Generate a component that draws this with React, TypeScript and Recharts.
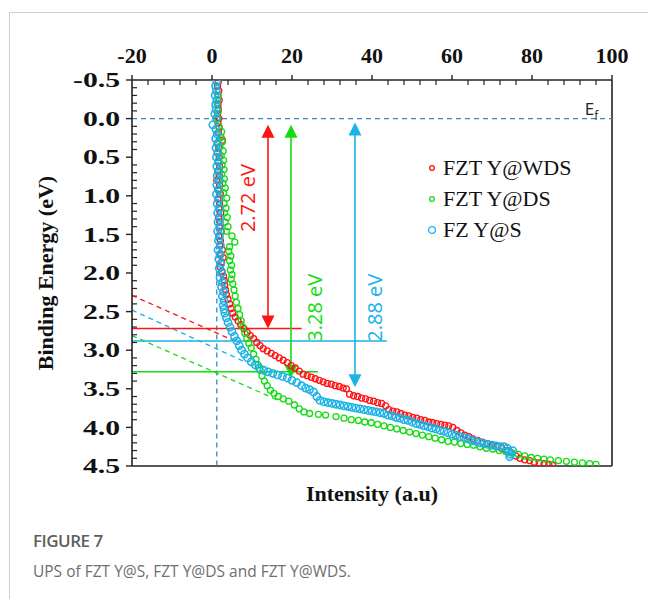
import React from "react";
import {
  Label,
  Legend,
  ReferenceDot,
  ReferenceLine,
  Scatter,
  ScatterChart,
  XAxis,
  YAxis,
} from "recharts";

// UPS scans: [intensity (a.u.), binding energy (eV)]
const wdsPoints: [number, number][] = [
  [1.6, -0.48], [1.4, -0.42], [1.7, -0.36], [1.5, -0.3], [1.8, -0.24], [1.5, -0.18],
  [1.6, -0.12], [1.4, -0.06], [1.7, 0.0], [1.5, 0.06], [1.8, 0.12], [1.6, 0.18],
  [2.2, 0.24], [2.6, 0.28], [1.4, 0.32], [1.7, 0.38], [1.3, 0.44], [1.8, 0.5],
  [1.5, 0.56], [1.9, 0.62], [1.4, 0.68], [1.8, 0.74], [1.2, 0.8], [1.9, 0.86],
  [1.6, 0.92], [2.1, 0.98], [1.5, 1.04], [1.9, 1.1], [1.7, 1.16], [2.2, 1.22],
  [1.6, 1.28], [2.0, 1.34], [1.8, 1.4], [2.3, 1.46], [1.7, 1.52], [2.1, 1.58],
  [1.9, 1.64], [2.6, 1.7], [2.2, 1.76], [2.8, 1.8], [2.4, 1.86], [2.0, 1.92],
  [2.5, 1.98], [2.9, 2.04], [3.1, 2.1], [3.2, 2.16], [3.4, 2.22], [3.6, 2.28],
  [4.0, 2.34], [4.4, 2.4], [4.8, 2.46], [5.2, 2.52], [5.8, 2.57], [6.5, 2.62],
  [7.2, 2.67], [8.0, 2.72], [8.8, 2.77], [9.6, 2.81], [10.4, 2.85], [11.2, 2.9],
  [12.0, 2.94], [12.8, 2.98], [13.8, 3.01], [14.8, 3.04], [15.8, 3.07], [16.8, 3.1],
  [17.8, 3.13], [18.8, 3.16], [19.8, 3.2], [20.8, 3.23], [21.8, 3.27], [22.8, 3.31],
  [23.8, 3.33], [24.8, 3.35], [25.8, 3.37], [26.8, 3.39], [27.8, 3.41], [28.8, 3.43],
  [29.8, 3.44], [30.8, 3.46], [31.8, 3.47], [32.8, 3.49], [33.6, 3.5], [34.4, 3.57],
  [35.4, 3.59], [36.4, 3.6], [37.4, 3.62], [38.4, 3.63], [39.4, 3.65], [40.4, 3.66],
  [41.4, 3.68], [42.4, 3.69], [43.4, 3.72], [44.2, 3.77], [45.2, 3.79], [46.2, 3.8],
  [47.2, 3.82], [48.2, 3.84], [49.2, 3.85], [50.2, 3.87], [51.2, 3.88], [52.2, 3.9],
  [53.2, 3.91], [54.2, 3.93], [55.2, 3.94], [56.2, 3.95], [57.2, 3.96], [58.2, 3.97],
  [59.2, 3.98], [60.2, 4.0], [61.2, 4.04], [62.2, 4.07], [63.2, 4.1], [64.2, 4.12],
  [65.2, 4.15], [66.4, 4.17], [67.6, 4.19], [68.8, 4.21], [70.0, 4.23], [71.2, 4.25],
  [72.4, 4.27], [73.6, 4.3], [74.8, 4.33], [76.0, 4.37], [77.0, 4.4], [78.2, 4.42],
  [79.4, 4.43], [80.6, 4.45], [81.8, 4.46], [83.0, 4.47], [84.2, 4.48], [85.2, 4.49],
];

const dsPoints: [number, number][] = [
  [1.5, -0.3], [1.3, -0.2], [1.6, -0.1], [1.4, 0.0], [1.7, 0.1], [2.4, 0.17],
  [2.2, 0.24], [2.6, 0.3], [2.0, 0.36], [2.8, 0.42], [2.3, 0.48], [2.9, 0.54],
  [2.5, 0.6], [3.0, 0.66], [2.4, 0.72], [3.1, 0.78], [2.7, 0.84], [3.3, 0.9],
  [2.9, 0.96], [3.7, 1.03], [3.0, 1.1], [3.5, 1.16], [3.1, 1.22], [3.8, 1.28],
  [3.3, 1.34], [4.0, 1.4], [3.6, 1.46], [5.0, 1.52], [5.7, 1.6], [4.4, 1.66],
  [4.2, 1.72], [4.7, 1.78], [4.4, 1.84], [4.9, 1.9], [4.6, 1.96], [5.0, 2.02],
  [4.8, 2.08], [5.2, 2.14], [5.5, 2.22], [5.8, 2.3], [6.1, 2.38], [6.5, 2.46],
  [6.9, 2.54], [7.3, 2.62], [7.7, 2.7], [8.2, 2.78], [8.7, 2.85], [9.2, 2.91],
  [9.8, 2.97], [10.4, 3.05], [11.0, 3.12], [11.5, 3.19], [12.0, 3.26], [12.5, 3.33],
  [13.1, 3.4], [13.8, 3.46], [14.6, 3.52], [15.5, 3.56], [16.6, 3.6], [17.8, 3.63],
  [19.2, 3.66], [20.6, 3.71], [21.8, 3.76], [23.0, 3.8], [24.4, 3.82], [26.6, 3.83],
  [28.4, 3.84], [31.0, 3.86], [33.0, 3.88], [34.8, 3.9], [36.6, 3.91], [38.2, 3.93],
  [39.8, 3.94], [41.4, 3.96], [43.0, 3.98], [44.6, 4.0], [46.2, 4.02], [47.8, 4.04],
  [49.4, 4.06], [51.0, 4.08], [52.6, 4.1], [54.2, 4.12], [55.8, 4.14], [57.4, 4.16],
  [59.0, 4.18], [60.6, 4.19], [62.2, 4.21], [63.8, 4.22], [65.4, 4.23], [67.0, 4.25],
  [68.6, 4.27], [70.2, 4.28], [71.8, 4.3], [73.4, 4.31], [75.0, 4.33], [76.6, 4.35],
  [78.2, 4.37], [79.8, 4.39], [81.4, 4.4], [83.0, 4.41], [84.6, 4.42], [86.6, 4.43],
  [88.6, 4.44], [90.6, 4.45], [92.6, 4.46], [94.4, 4.47], [96.0, 4.48],
];

const sPoints: [number, number][] = [
  [1.2, -0.48], [0.9, -0.42], [1.1, -0.36], [0.8, -0.3], [1.2, -0.24], [0.9, -0.18],
  [1.0, -0.12], [0.7, -0.06], [1.1, 0.0], [0.2, 0.08], [1.0, 0.14], [1.3, 0.2],
  [0.9, 0.26], [1.4, 0.32], [1.0, 0.38], [1.5, 0.44], [1.1, 0.5], [1.6, 0.56],
  [1.2, 0.62], [1.7, 0.68], [1.3, 0.74], [1.8, 0.8], [1.2, 0.86], [1.6, 0.92],
  [1.1, 0.98], [1.7, 1.04], [1.3, 1.1], [1.8, 1.16], [1.4, 1.22], [1.9, 1.28],
  [1.5, 1.34], [2.0, 1.4], [1.4, 1.46], [1.9, 1.52], [1.6, 1.58], [2.1, 1.64],
  [1.5, 1.7], [2.0, 1.76], [1.7, 1.82], [2.2, 1.88], [1.8, 1.94], [2.4, 2.0],
  [2.0, 2.06], [2.6, 2.12], [2.4, 2.18], [2.9, 2.24], [2.6, 2.3], [3.0, 2.36],
  [2.8, 2.42], [3.0, 2.47], [3.2, 2.52], [3.6, 2.58], [4.0, 2.64], [4.5, 2.7],
  [5.0, 2.76], [5.6, 2.82], [6.2, 2.88], [6.8, 2.94], [7.4, 3.0], [8.1, 3.05],
  [8.9, 3.1], [9.8, 3.15], [10.8, 3.19], [11.8, 3.23], [12.9, 3.26], [14.0, 3.28],
  [15.2, 3.3], [16.4, 3.32], [17.6, 3.34], [18.8, 3.36], [20.0, 3.39], [21.2, 3.42],
  [22.4, 3.46], [23.4, 3.49], [24.4, 3.51], [25.4, 3.54], [26.2, 3.6], [27.0, 3.65],
  [28.0, 3.67], [29.0, 3.68], [30.0, 3.69], [31.0, 3.7], [32.0, 3.71], [33.0, 3.72],
  [34.0, 3.73], [35.0, 3.74], [36.0, 3.75], [37.0, 3.76], [38.0, 3.77], [39.0, 3.78],
  [40.0, 3.79], [41.0, 3.8], [42.0, 3.81], [43.0, 3.82], [44.0, 3.84], [45.0, 3.85],
  [46.0, 3.87], [47.0, 3.88], [48.0, 3.9], [49.0, 3.91], [50.0, 3.93], [51.0, 3.95],
  [52.0, 3.96], [53.0, 3.98], [54.0, 3.99], [55.0, 4.01], [56.0, 4.02], [57.0, 4.04],
  [58.0, 4.05], [59.0, 4.07], [60.0, 4.09], [61.0, 4.1], [62.0, 4.12], [63.0, 4.13],
  [64.0, 4.15], [65.0, 4.17], [66.0, 4.18], [67.0, 4.2], [68.0, 4.21], [69.0, 4.22],
  [70.0, 4.23], [71.0, 4.24], [72.0, 4.25], [73.0, 4.25], [73.8, 4.27], [75.2, 4.3],
  [74.2, 4.31], [74.6, 4.35], [74.4, 4.38],
];

const seriesNames = ["FZT Y@WDS", "FZT Y@DS", "FZ Y@S"];
const seriesColors = ["#ff1414", "#14dc14", "#1cb2e6"];
const seriesPoints = [wdsPoints, dsPoints, sPoints];

const xTicks = [-20, 0, 20, 40, 60, 80, 100];
const yTicks = [-0.5, 0, 0.5, 1, 1.5, 2, 2.5, 3, 3.5, 4, 4.5];

// band gaps: value, arrow column, arrow ends, end of the VBM line, label spot
const gapValues = [2.72, 3.28, 2.88];
const arrowX = [14, 19.75, 35.75];
const arrowTop = [0.08, 0.08, 0.05];
const arrowBottom = [2.72, 3.36, 3.48];
const gapLineEnd = [22.4, 26.5, 43.7];
const gapLabelX = [9, 25.75, 40.75];
const gapLabelY = [1.03, 2.45, 2.45];

// linear fits to the onset, [x0, y0, x1, y1], same order as the series
const onsetFits = [
  [-20, 2.29, 6.5, 2.9],
  [-20, 2.81, 17, 3.66],
  [-20, 2.48, 8.2, 3.15],
];
const baselineX = 1.2;

const serif = "'Liberation Serif', 'Times New Roman', serif";
const sans = "'Open Sans', 'Noto Sans', sans-serif";
const EF_BLUE = "#2a8ad4";
const AXIS = "#222";

// minor ticks: every 4 on x, every 0.1 on y
const xMinor: number[] = [];
for (let i = -5; i <= 25; i++) if (i % 5 !== 0) xMinor.push(i * 4);
const yMinor: number[] = [];
for (let i = 0; i <= 50; i++) if (i % 5 !== 0) yMinor.push(-0.5 + i * 0.1);

const ring = (color: string, r: number, w: number) => (p: any) => (
  <circle cx={p.cx} cy={p.cy} r={r} fill="none" stroke={color} strokeWidth={w} />
);

const headUp = (color: string) => (p: any) => (
  <polygon
    points={`${p.cx},${p.cy} ${p.cx - 6.5},${p.cy + 13} ${p.cx + 6.5},${p.cy + 13}`}
    fill={color}
  />
);

const headDown = (color: string) => (p: any) => (
  <polygon
    points={`${p.cx},${p.cy} ${p.cx - 6.5},${p.cy - 13} ${p.cx + 6.5},${p.cy - 13}`}
    fill={color}
  />
);

const gapText = (text: string, color: string) => (p: any) => (
  <text
    x={p.cx}
    y={p.cy}
    transform={`rotate(-90 ${p.cx} ${p.cy})`}
    textAnchor="middle"
    dominantBaseline="central"
    fill={color}
    fontFamily={sans}
    fontSize={20}
  >
    {text}
  </text>
);

const fermiText = (p: any) => (
  <text x={p.cx} y={p.cy} fill="#222" fontFamily={sans} fontSize={17}>
    E
    <tspan fontSize={12} dy={5}>
      f
    </tspan>
  </text>
);

// energy labels are drawn a bit wide, like the original axis
const yTick = (p: any) => (
  <text
    transform={`translate(${p.x},${p.y}) scale(1.35,1)`}
    textAnchor="end"
    dominantBaseline="central"
    fontFamily={serif}
    fontWeight="bold"
    fontSize={22}
    fill="#111"
  >
    {Number(p.payload.value).toFixed(1)}
  </text>
);

const renderLegend = () => (
  <div>
    {seriesNames.map((name, i) => (
      <div
        key={name}
        style={{ display: "flex", alignItems: "center", height: 31 }}
      >
        <svg width={12} height={12}>
          <circle
            cx={6}
            cy={6}
            r={i === 2 ? 3.4 : 2.4}
            fill="none"
            stroke={seriesColors[i]}
            strokeWidth={1.3}
          />
        </svg>
        <span
          style={{
            marginLeft: 5,
            fontFamily: serif,
            fontSize: 22,
            color: "#111",
            lineHeight: "31px",
          }}
        >
          {name}
        </span>
      </div>
    ))}
  </div>
);

const yTitle = (p: any) => {
  const vb = p.viewBox;
  const cx = vb.x - 27;
  const cy = vb.y + vb.height / 2;
  return (
    <text
      x={cx}
      y={cy}
      transform={`rotate(-90 ${cx} ${cy})`}
      textAnchor="middle"
      dominantBaseline="central"
      fontFamily={serif}
      fontWeight="bold"
      fontSize={22}
      fill="#111"
    >
      Binding Energy (eV)
    </text>
  );
};

export default function App() {
  const tickStyle = {
    fontFamily: serif,
    fontSize: 22,
    fontWeight: "bold",
    fill: "#111",
  };

  return (
    <div
      style={{
        position: "absolute",
        left: 0,
        top: 0,
        width: 648,
        height: 599,
        background: "#fff",
        overflow: "hidden",
      }}
    >
      {/* page frame */}
      <div style={{ position: "absolute", left: 9, top: 12, right: 0, height: 1, background: "#d0d0d0" }} />
      <div style={{ position: "absolute", left: 9, top: 12, bottom: 0, width: 1, background: "#d0d0d0" }} />

      <ScatterChart
        width={648}
        height={599}
        margin={{ top: 50, right: 36, bottom: 133, left: 72 }}
      >
        <XAxis
          type="number"
          dataKey="x"
          orientation="top"
          domain={[-20, 100]}
          ticks={xTicks}
          allowDataOverflow
          height={30}
          tickSize={5}
          tickMargin={12}
          tick={tickStyle}
          axisLine={{ stroke: AXIS, strokeWidth: 1.6 }}
          tickLine={{ stroke: AXIS, strokeWidth: 1.4 }}
        />
        <YAxis
          type="number"
          dataKey="y"
          reversed
          domain={[-0.5, 4.5]}
          ticks={yTicks}
          allowDataOverflow
          width={60}
          tickSize={6}
          tickMargin={6}
          tick={yTick}
          axisLine={{ stroke: AXIS, strokeWidth: 1.6 }}
          tickLine={{ stroke: AXIS, strokeWidth: 1.4 }}
        >
          <Label content={yTitle} />
        </YAxis>

        {/* right and bottom edges of the box */}
        <ReferenceLine x={100} stroke={AXIS} strokeWidth={1.6} />
        <ReferenceLine y={4.5} stroke={AXIS} strokeWidth={1.6}>
          <Label
            value="Intensity (a.u)"
            position="bottom"
            offset={19}
            fill="#111"
            fontFamily={serif}
            fontWeight="bold"
            fontSize={22}
          />
        </ReferenceLine>

        {xMinor.map((v) => (
          <ReferenceLine
            key={`xm${v}`}
            segment={[{ x: v, y: -0.5 }, { x: v, y: -0.435 }]}
            stroke={AXIS}
            strokeWidth={1.2}
          />
        ))}
        {yMinor.map((v) => (
          <ReferenceLine
            key={`ym${v.toFixed(1)}`}
            segment={[{ x: -20, y: v }, { x: -18.75, y: v }]}
            stroke={AXIS}
            strokeWidth={1.2}
          />
        ))}

        {/* Fermi level and baseline */}
        <ReferenceLine y={0} stroke={EF_BLUE} strokeWidth={1.3} strokeDasharray="5 4" />
        <ReferenceLine
          segment={[{ x: baselineX, y: 0 }, { x: baselineX, y: 4.5 }]}
          stroke={EF_BLUE}
          strokeWidth={1.3}
          strokeDasharray="5 4"
        />
        <ReferenceDot x={93.2} y={-0.05} shape={fermiText} />

        {onsetFits.map((f, i) => (
          <ReferenceLine
            key={`fit${i}`}
            segment={[{ x: f[0], y: f[1] }, { x: f[2], y: f[3] }]}
            stroke={seriesColors[i]}
            strokeWidth={1.3}
            strokeDasharray="5 4"
          />
        ))}

        {gapValues.map((g, i) => (
          <ReferenceLine
            key={`vbm${i}`}
            segment={[{ x: -20, y: g }, { x: gapLineEnd[i], y: g }]}
            stroke={seriesColors[i]}
            strokeWidth={1.5}
          />
        ))}

        {arrowX.map((ax, i) => (
          <ReferenceLine
            key={`shaft${i}`}
            segment={[{ x: ax, y: arrowTop[i] + 0.1 }, { x: ax, y: arrowBottom[i] - 0.1 }]}
            stroke={seriesColors[i]}
            strokeWidth={1.6}
          />
        ))}
        {arrowX.map((ax, i) => (
          <ReferenceDot key={`up${i}`} x={ax} y={arrowTop[i]} shape={headUp(seriesColors[i])} />
        ))}
        {arrowX.map((ax, i) => (
          <ReferenceDot key={`dn${i}`} x={ax} y={arrowBottom[i]} shape={headDown(seriesColors[i])} />
        ))}
        {gapValues.map((g, i) => (
          <ReferenceDot
            key={`gl${i}`}
            x={gapLabelX[i]}
            y={gapLabelY[i]}
            shape={gapText(`${g.toFixed(2)} eV`, seriesColors[i])}
          />
        ))}

        {seriesPoints.map((pts, i) => (
          <Scatter
            key={seriesNames[i]}
            name={seriesNames[i]}
            data={pts.map(([x, y]) => ({ x, y }))}
            shape={ring(seriesColors[i], i === 2 ? 3.6 : 3, i === 2 ? 1.6 : 1.3)}
            isAnimationActive={false}
          />
        ))}

        <Legend
          layout="vertical"
          align="center"
          verticalAlign="middle"
          content={renderLegend}
          wrapperStyle={{ left: 426, top: 152, width: 200, height: 93 }}
        />
      </ScatterChart>

      <div
        style={{
          position: "absolute",
          left: 33,
          top: 529,
          fontFamily: sans,
          fontSize: 17,
          fontWeight: 600,
          color: "#5e5e5e",
          letterSpacing: -0.5,
        }}
      >
        FIGURE 7
      </div>
      <div
        style={{
          position: "absolute",
          left: 33,
          top: 560,
          fontFamily: sans,
          fontSize: 15.5,
          color: "#6e6e6e",
        }}
      >
        UPS of FZT Y@S, FZT Y@DS and FZT Y@WDS.
      </div>
    </div>
  );
}
